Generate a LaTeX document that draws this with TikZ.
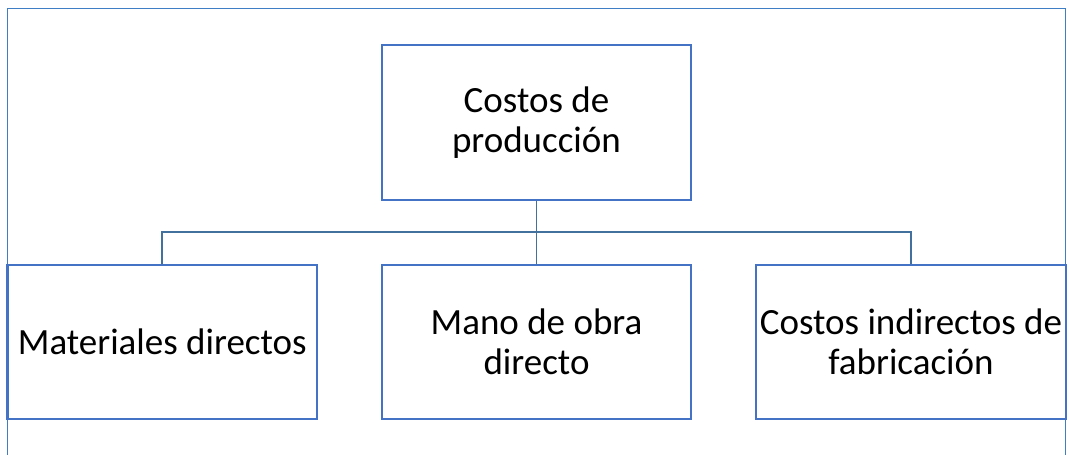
\documentclass[tikz,border=0pt]{standalone}
\usepackage{fontspec}
\setmainfont{Carlito}
\definecolor{boxblue}{HTML}{4472C4}
\definecolor{linkblue}{HTML}{41719C}
\definecolor{frameblue}{HTML}{3F7EC4}
\begin{document}
\begin{tikzpicture}[x=1pt,y=-1pt,
  box/.style={draw=boxblue,line width=2.2pt,fill=white,inner sep=0pt,align=center,
    font=\fontsize{37}{39.5}\selectfont,text=black},
  link/.style={draw=linkblue,line width=1.8pt},
  frameline/.style={draw=frameblue,line width=1.6pt}]
\useasboundingbox (0,0) rectangle (1069,455);
\coordinate (fbl) at (7.5,460);
\coordinate (ftl) at (7.5,8.5);
\coordinate (ftr) at (1065.5,8.5);
\coordinate (fbr) at (1065.5,460);
\draw[frameline] (fbl) -- (ftl) -- (ftr) -- (fbr);
\node[box,minimum width=309pt,minimum height=155pt] (top) at (536.5,122.5) {Costos de\\producción};
\node[box,minimum width=309.5pt,minimum height=154pt] (mat) at (162.25,342) {Materiales directos};
\node[box,minimum width=309pt,minimum height=154pt] (mano) at (536.5,342) {Mano de obra\\directo};
\node[box,minimum width=310pt,minimum height=154pt] (cif) at (911,342) {Costos indirectos de\\fabricación};
\coordinate (bus) at (536.5,232);
\draw[link] (top.south) -- (bus);
\draw[link] (mat.north) -- (mat.north |- bus) -- (cif.north |- bus) -- (cif.north);
\draw[link] (bus) -- (mano.north);
\end{tikzpicture}
\end{document}
